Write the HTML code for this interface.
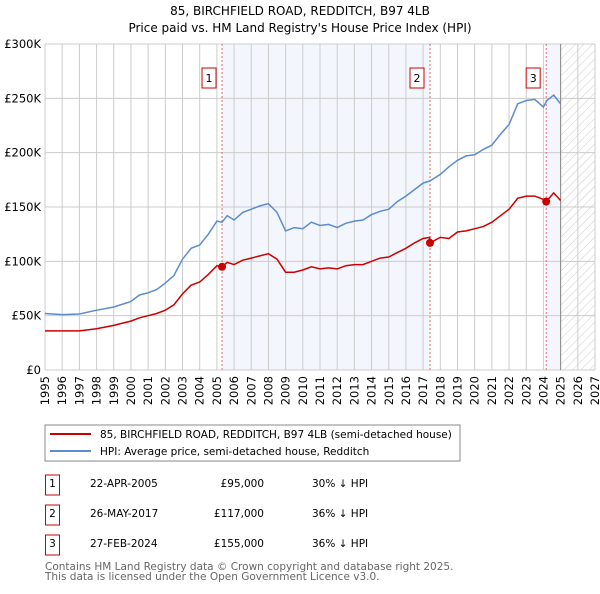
<!DOCTYPE html>
<html><head><meta charset="utf-8"><style>
body{margin:0;background:#fff;font-family:"DejaVu Sans","Liberation Sans",sans-serif;color:#222}
svg text{font-family:"DejaVu Sans","Liberation Sans",sans-serif}
</style></head><body>
<svg id="chart" width="600" height="590">
<defs><pattern id="hatch" width="6" height="6" patternUnits="userSpaceOnUse" patternTransform="rotate(45)"><line x1="0" y1="0" x2="0" y2="6" stroke="#ccc" stroke-width="1"/></pattern></defs>
<text x="300" y="15" text-anchor="middle" font-size="12">85, BIRCHFIELD ROAD, REDDITCH, B97 4LB</text>
<text x="300" y="32" text-anchor="middle" font-size="12">Price paid vs. HM Land Registry's House Price Index (HPI)</text>
<g id="plot"></g>
<rect x="45" y="425" width="415" height="36" fill="#fff" stroke="#888"/>
<line x1="50" y1="434" x2="91" y2="434" stroke="#cc0000" stroke-width="2"/>
<text x="100" y="438" font-size="10.5">85, BIRCHFIELD ROAD, REDDITCH, B97 4LB (semi-detached house)</text>
<line x1="50" y1="451" x2="91" y2="451" stroke="#5b8ccf" stroke-width="2"/>
<text x="100" y="455" font-size="10.5">HPI: Average price, semi-detached house, Redditch</text>
<g id="table" font-size="10.5"></g>
<text x="45" y="570" font-size="10.5" fill="#666">Contains HM Land Registry data © Crown copyright and database right 2025.</text>
<text x="45" y="580" font-size="10.5" fill="#666">This data is licensed under the Open Government Licence v3.0.</text>
</svg>
<script>
const hpiYears=[1995,1996,1997,1998,1999,2000,2000.5,2001,2001.5,2002,2002.5,2003,2003.5,2004,2004.5,2005,2005.3,2005.6,2006,2006.5,2007,2007.5,2008,2008.5,2009,2009.5,2010,2010.5,2011,2011.5,2012,2012.5,2013,2013.5,2014,2014.5,2015,2015.5,2016,2016.5,2017,2017.4,2018,2018.5,2019,2019.5,2020,2020.5,2021,2021.5,2022,2022.5,2023,2023.5,2024,2024.2,2024.6,2025];
const hpiValues=[52,51,51.5,55,58,63,69,71,74,80,87,102,112,115,125,137,136,142,138,145,148,151,153,145,128,131,130,136,133,134,131,135,137,138,143,146,148,155,160,166,172,174,180,187,193,197,198,203,207,217,226,245,248,249,242,248,253,245];
const ppYears=[1995,1996,1997,1998,1999,2000,2000.5,2001,2001.5,2002,2002.5,2003,2003.5,2004,2004.5,2005,2005.3,2005.6,2006,2006.5,2007,2007.5,2008,2008.5,2009,2009.5,2010,2010.5,2011,2011.5,2012,2012.5,2013,2013.5,2014,2014.5,2015,2015.5,2016,2016.5,2017,2017.38,2017.4,2018,2018.5,2019,2019.5,2020,2020.5,2021,2021.5,2022,2022.5,2023,2023.5,2024,2024.16,2024.6,2025];
const ppValues=[36,36,36,38,41,45,48,50,52,55,60,70,78,81,88,96,95,99,97,101,103,105,107,102,90,90,92,95,93,94,93,96,97,97,100,103,104,108,112,117,121,122,117,122,121,127,128,130,132,136,142,148,158,160,160,157,155,163,156];
const saleLabels=["1","2","3"];
const saleDates=["22-APR-2005","26-MAY-2017","27-FEB-2024"];
const saleYears=[2005.3,2017.4,2024.16];
const salePrices=[95,117,155];
const salePriceText=["£95,000","£117,000","£155,000"];
const saleHpiText=["30% ↓ HPI","36% ↓ HPI","36% ↓ HPI"];
const yTicks=[0,50,100,150,200,250,300];
const yTickLabels=["£0","£50K","£100K","£150K","£200K","£250K","£300K"];
const xTicks=[1995,1996,1997,1998,1999,2000,2001,2002,2003,2004,2005,2006,2007,2008,2009,2010,2011,2012,2013,2014,2015,2016,2017,2018,2019,2020,2021,2022,2023,2024,2025,2026,2027];

const L=45,R=595,T=44,B=370,X0=1995,X1=2027,YMAX=300;
const sx=v=>L+(v-X0)/(X1-X0)*(R-L);
const sy=v=>B-v/YMAX*(B-T);
const NS="http://www.w3.org/2000/svg";
const plot=document.getElementById('plot');
function mk(tag,attrs,parent,text){const e=document.createElementNS(NS,tag);for(const k in attrs)e.setAttribute(k,attrs[k]);if(text!==undefined)e.textContent=text;(parent||plot).appendChild(e);return e;}
let e;
e=mk('rect',{x:sx(saleYears[0]),y:T,width:sx(saleYears[1])-sx(saleYears[0]),height:B-T,fill:'#f3f6fd'});


e=mk('rect',{x:sx(saleYears[2]),y:T,width:sx(2025)-sx(saleYears[2]),height:B-T,fill:'#f3f6fd'});


e=mk('rect',{x:sx(2025),y:T,width:sx(X1)-sx(2025),height:B-T,fill:'url(#hatch)'});


xTicks.forEach(t=>{
 e=mk('line',{x1:sx(t),x2:sx(t),y1:T,y2:B,stroke:'#ccc','stroke-width':1});
 
 
 e=mk('text',{transform:`translate(${sx(t)+4},${B+6}) rotate(-90)`,'text-anchor':'end','font-size':11.5},plot,String(t));
 
 
});
yTicks.forEach((t,i)=>{
 e=mk('line',{x1:L,x2:R,y1:sy(t),y2:sy(t),stroke:'#ccc','stroke-width':1});
 
 
 e=mk('text',{x:L-4,y:sy(t)+4,'text-anchor':'end','font-size':11.5},plot,yTickLabels[i]);
 
 
});
e=mk('line',{x1:sx(2025),x2:sx(2025),y1:T,y2:B,stroke:'#888','stroke-width':1});


saleYears.forEach((y,i)=>{
 e=mk('line',{x1:sx(y),x2:sx(y),y1:T,y2:B,stroke:'#e66','stroke-width':1,'stroke-dasharray':'2,2'});
 
 
 e=mk('rect',{x:sx(y)-20,y:68,width:14,height:20,fill:'#fff',stroke:'#cc0000'});
 
 
 e=mk('text',{x:sx(y)-13,y:82,'text-anchor':'middle','font-size':11},plot,saleLabels[i]);
 
 
});
e=mk('path',{d:hpiYears.map((y,i)=>(i?'L':'M')+sx(y).toFixed(1)+','+sy(hpiValues[i]).toFixed(1)).join(''),fill:'none',stroke:'#5b8ccf','stroke-width':1.5});


e=mk('path',{d:ppYears.map((y,i)=>(i?'L':'M')+sx(y).toFixed(1)+','+sy(ppValues[i]).toFixed(1)).join(''),fill:'none',stroke:'#cc0000','stroke-width':1.5});


saleYears.forEach((y,i)=>{
 e=mk('circle',{cx:sx(y),cy:sy(salePrices[i]),r:4,fill:'#cc0000'});
 
 
});
const tbl=document.getElementById('table');
saleLabels.forEach((s,i)=>{
 const y=483+i*30;
 e=mk('rect',{x:45.5,y:y-8,width:14,height:20,fill:'#fff',stroke:'#cc0000'},tbl);
 
 
 e=mk('text',{x:52.5,y:y+4,'text-anchor':'middle'},tbl,s);
 
 
 e=mk('text',{x:90,y:y+4},tbl,saleDates[i]);
 
 
 e=mk('text',{x:264,y:y+4,'text-anchor':'end'},tbl,salePriceText[i]);
 
 
 e=mk('text',{x:312,y:y+4},tbl,saleHpiText[i]);
 
 
});
</script>
</body></html>
